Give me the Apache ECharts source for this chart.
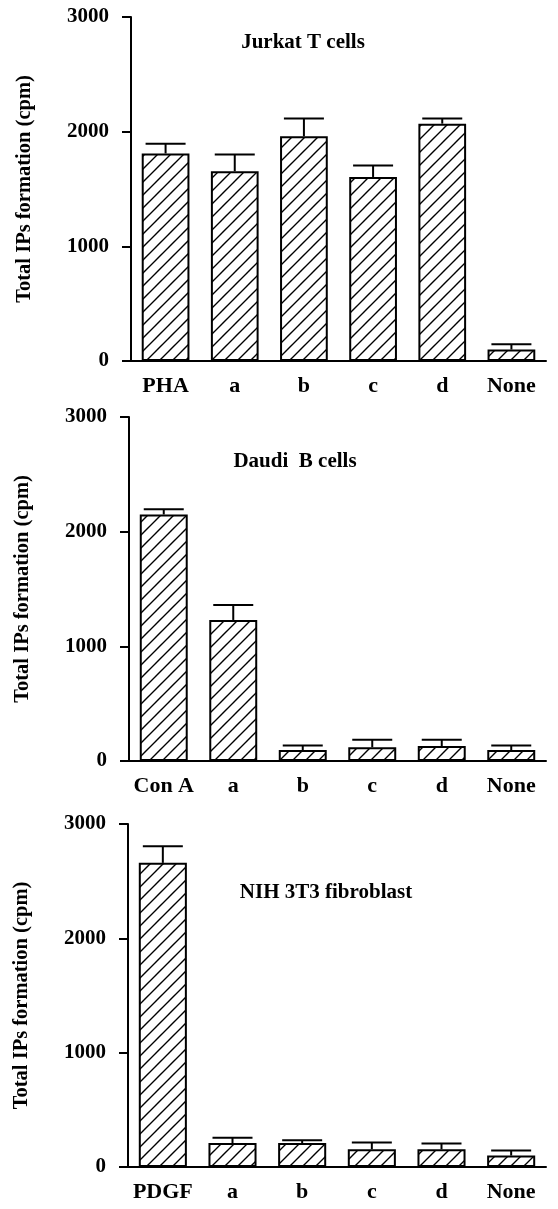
<!DOCTYPE html>
<html>
<head>
<meta charset="utf-8">
<script src="https://cdn.jsdelivr.net/npm/echarts@6/dist/echarts.min.js"></script>
<style>
  html, body { margin: 0; padding: 0; background: #fff; }
  #chart { width: 558px; height: 1209px; }
</style>
</head>
<body>
<div id="chart"></div>
<script>
// values (cpm), error = upper error bar length
const jurkatCats = ["PHA", "a", "b", "c", "d", "None"];
const jurkatMean = [1810, 1655, 1960, 1605, 2070, 100];
const jurkatErr = [85, 145, 155, 100, 45, 45];

const daudiCats = ["Con A", "a", "b", "c", "d", "None"];
const daudiMean = [2150, 1230, 95, 120, 130, 95];
const daudiErr = [45, 130, 40, 65, 55, 40];

const nihCats = ["PDGF", "a", "b", "c", "d", "None"];
const nihMean = [2660, 210, 210, 155, 155, 100];
const nihErr = [145, 45, 25, 60, 50, 45];

const yTicks = [0, 1000, 2000, 3000];
const panelTitles = ["Jurkat T cells", "Daudi  B cells", "NIH 3T3 fibroblast"];
const yName = "Total IPs formation (cpm)";

const FONT = "Liberation Serif";

// diagonal hatch used as bar fill
function makeHatch() {
  const size = 13;
  const c = document.createElement("canvas");
  c.width = size;
  c.height = size;
  const ctx = c.getContext("2d");
  ctx.fillStyle = "#fff";
  ctx.fillRect(0, 0, size, size);
  ctx.strokeStyle = "#000";
  ctx.lineWidth = 1.4;
  ctx.beginPath();
  [-size, 0, size].forEach(off => {
    ctx.moveTo(off - 1, size + 1);
    ctx.lineTo(off + size + 1, -1);
  });
  ctx.stroke();
  return c;
}
const hatch = makeHatch();

const panels = [
  { cats: jurkatCats, mean: jurkatMean, err: jurkatErr, top: 17, height: 344, left: 131, title: [303, 43] },
  { cats: daudiCats, mean: daudiMean, err: daudiErr, top: 417, height: 344, left: 129, title: [295, 462] },
  { cats: nihCats, mean: nihMean, err: nihErr, top: 824, height: 343, left: 128, title: [326, 893] }
];

function errorRender(params, api) {
  const x = api.value(0);
  const lo = api.coord([x, api.value(1)]);
  const hi = api.coord([x, api.value(2)]);
  const st = { stroke: "#000", lineWidth: 2 };
  return {
    type: "group",
    children: [
      { type: "line", shape: { x1: lo[0], y1: lo[1], x2: hi[0], y2: hi[1] }, style: st },
      { type: "line", shape: { x1: hi[0] - 20, y1: hi[1], x2: hi[0] + 20, y2: hi[1] }, style: st }
    ]
  };
}

const myChart = echarts.init(document.getElementById("chart"));
const option = {
  animation: false,
  backgroundColor: "#fff",
  grid: panels.map(p => ({ left: p.left, right: 12, top: p.top, height: p.height })),
  xAxis: panels.map((p, i) => ({
    type: "category",
    gridIndex: i,
    data: p.cats,
    axisLine: { lineStyle: { color: "#000", width: 2 } },
    axisTick: { show: false },
    axisLabel: {
      interval: 0,
      color: "#000",
      fontFamily: FONT,
      fontWeight: "bold",
      fontSize: 22,
      margin: 14
    }
  })),
  yAxis: panels.map((p, i) => ({
    type: "value",
    gridIndex: i,
    min: yTicks[0],
    max: yTicks[yTicks.length - 1],
    interval: yTicks[1] - yTicks[0],
    name: yName,
    nameLocation: "middle",
    nameRotate: 90,
    nameGap: 96,
    nameTextStyle: { color: "#000", fontFamily: FONT, fontWeight: "bold", fontSize: 20.5 },
    splitLine: { show: false },
    axisLine: { show: true, lineStyle: { color: "#000", width: 2 } },
    axisTick: { show: true, length: 9, lineStyle: { color: "#000", width: 2 } },
    axisLabel: {
      color: "#000",
      fontFamily: FONT,
      fontWeight: "bold",
      fontSize: 21,
      margin: 22,
      formatter: v => String(v)
    }
  })),
  graphic: panels.map((p, i) => ({
    type: "text",
    x: p.title[0],
    y: p.title[1],
    style: {
      text: panelTitles[i],
      fill: "#000",
      font: `bold 21px "${FONT}"`,
      textAlign: "center",
      textVerticalAlign: "middle"
    }
  })),
  series: []
};

panels.forEach((p, i) => {
  option.series.push({
    type: "bar",
    xAxisIndex: i,
    yAxisIndex: i,
    barWidth: "69%",
    data: p.mean,
    itemStyle: {
      color: { image: hatch, repeat: "repeat" },
      borderColor: "#000",
      borderWidth: 2
    }
  });
  option.series.push({
    type: "custom",
    xAxisIndex: i,
    yAxisIndex: i,
    z: 5,
    renderItem: errorRender,
    encode: { x: 0, y: [1, 2] },
    data: p.mean.map((m, k) => [k, m, m + p.err[k]])
  });
});

myChart.setOption(option);
</script>
</body>
</html>
